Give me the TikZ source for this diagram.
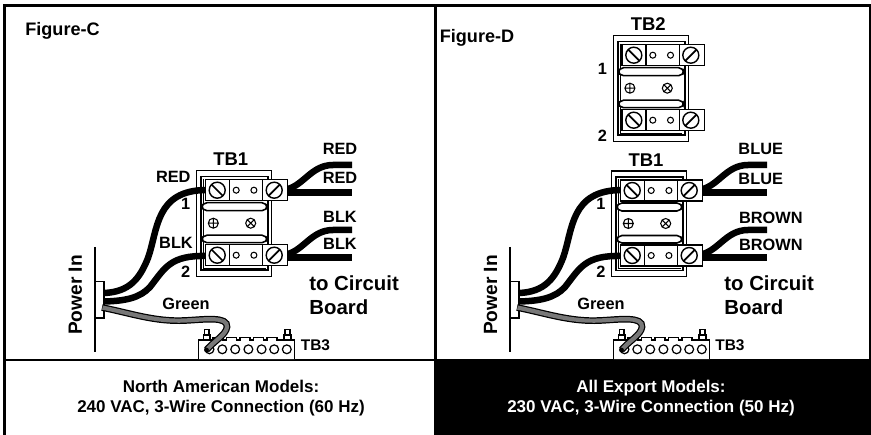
\documentclass[tikz,border=0pt]{standalone}
\usepackage{fontspec}
\setmainfont{Liberation Sans}
\usetikzlibrary{calc}
\definecolor{wiregreen}{gray}{0.47}
\tikzset{
	lbl/.style={font=\bfseries\fontsize{9.3}{11}\selectfont, inner sep=0pt},
	lblbig/.style={font=\bfseries\fontsize{11.6}{14}\selectfont, inner sep=0pt},
	lbltb/.style={font=\bfseries\fontsize{10.5}{12}\selectfont, inner sep=0pt},
	lblfig/.style={font=\bfseries\fontsize{10.3}{12}\selectfont, inner sep=0pt},
	lblfoot/.style={font=\bfseries\fontsize{9.67}{11.3}\selectfont, inner sep=0pt, align=center},
	wire/.style={line width=3.7pt, black},
	screw/.style={line width=0.8pt, fill=white},
}
% screw (#1,#2) with its slot turned by #3
\def\screwhead(#1,#2)(#3){
	\draw[screw] (#1, #2) circle (8);
	\draw[line width=1pt] ($(#1, #2)+({8*cos(#3)},{8*sin(#3)})$) -- ($(#1, #2)-({8*cos(#3)},{8*sin(#3)})$);
}
% terminal strip with top left corner (#1,#2)
\def\tbstrip(#1,#2){
	\draw[line width=0.8pt, fill=white] (#1, #2) rectangle ++(82.5, 21);
	\draw[line width=0.8pt] ($(#1, #2)+(24, 0)$) -- ++(0, 21);
	\draw[line width=0.8pt] ($(#1, #2)+(57.5, 0)$) -- ++(0, 21);
	\screwhead($(#1, #2)+(12, 10.5)$)(45);
	\screwhead($(#1, #2)+(69, 10.5)$)(-45);
	\draw[line width=0.6pt] ($(#1, #2)+(31, 10.5)$) circle (3);
	\draw[line width=0.6pt] ($(#1, #2)+(48.7, 10.5)$) circle (3);
}
% whole terminal block with top left corner (#1,#2)
\def\tbblock(#1,#2){
	\begin{scope}[shift={(#1, #2)}]
		\draw[line width=0.6pt] (0, 0) rectangle (75, 105.5);
		\draw[line width=0.9pt] (4.5, 6) rectangle (71.5, 99.5);
		\draw[line width=0.6pt] (6.8, 8) -- (6.8, 97.5) -- (69, 97.5);
		\draw[line width=0.9pt, fill=white, rounded corners=3] (5, 32) rectangle (70.5, 40);
		\draw[line width=0.9pt, fill=white, rounded corners=3] (5, 64.5) rectangle (70.5, 72);
		\tbstrip(8.5,9)
		\tbstrip(8.5,74)
		\draw[line width=0.6pt] (16.6, 52.5) circle (5) (11.6, 52.5) -- (21.6, 52.5) (16.6, 47.5) -- (16.6, 57.5);
		\draw[line width=0.6pt] (54, 52.5) circle (5) (50.5, 49) -- (57.5, 56) (50.5, 56) -- (57.5, 49);
	\end{scope}
}
% power entry, green wire and TB3 of one panel
\def\tbpower(#1){
	\begin{scope}[shift={(#1, 0)}]
		\draw[line width=0.7pt] (95, 247) -- (95, 352);
		\draw[line width=0.7pt, fill=white] (95, 281.5) rectangle (104, 318);
		% TB3
		\draw[line width=0.7pt, fill=white] (203.5, 335) rectangle (210, 340) (204.5, 329.5) rectangle (209, 335);
		\draw[line width=0.7pt, fill=white] (284, 335) rectangle (291, 340) (285, 329.5) rectangle (290, 335);
		\draw[line width=0.8pt, fill=white] (198.5, 359) -- (198.5, 340) -- (213, 340)
			\foreach \x in {213, 226.5, 240, 253.5, 267} {
				-- (\x, 337.5) -- (\x+10, 337.5) -- (\x+10, 340) -- (\x+13.5, 340)
			} -- (294.5, 340) -- (294.5, 359);
		\foreach \x in {209.5, 222.3, 235.2, 248.4, 261.6, 274.2, 286.8} {
			\draw[line width=0.7pt] (\x, 349.3) circle (4.4);
		}
		% green wire
		\draw[line width=3.8pt, black] (102, 307.5) .. controls (130, 313) and (155, 322) .. (185, 320.5) .. controls (205, 319.5) and (228, 316) .. (227, 327) .. controls (226, 335) and (214, 341) .. (206.5, 350);
		\draw[line width=2.4pt, wiregreen] (102.5, 307.6) .. controls (130, 313) and (155, 322) .. (185, 320.5) .. controls (205, 319.5) and (228, 316) .. (227, 327) .. controls (226, 335) and (214, 341) .. (207, 349.5);
		\fill (206.5, 350) circle (2.4);
		% incoming wires
		\draw[wire] (104, 293) .. controls (130, 292) and (140, 278) .. (148, 258) .. controls (158, 230) and (155, 190) .. (207, 190);
		\draw[wire] (104, 301.5) .. controls (125, 301) and (140, 298) .. (150, 287) .. controls (165, 268) and (170, 255) .. (207, 256);
	\end{scope}
}
% outgoing pair of wires
\def\tbout(#1,#2,#3){
	\draw[wire] (#1, #2+2.5) -- (#3, #2+2.5);
	\draw[wire] (#1, #2) .. controls (#1+20, #2-2) and (#1+27, #2-25) .. (#1+50, #2-25) -- (#3, #2-25);
}

\begin{document}
\begin{tikzpicture}[x=0.02cm, y=-0.02cm]
	\useasboundingbox (0, 0) rectangle (871, 435);

	%%%%% PANELS %%%%%
	\fill[white] (0, 0) rectangle (871, 435);
	\fill[black] (434, 360) rectangle (871, 435);
	\draw[line width=1.7pt] (4.5, 435) -- (4.5, 5.5) -- (870.5, 5.5) -- (870.5, 360);
	\draw[line width=1.5pt] (4.5, 360) -- (870.5, 360);
	\draw[line width=1.7pt] (435, 5.5) -- (435, 435);

	%%%%% FIGURE C %%%%%
	\tbpower(0)
	\tbout(283,190,352)
	\tbout(283,255,352)
	\tbblock(196.7,170.7)
	\node[lblfig] (figc) at (62.5, 31) {Figure-C};
	\node[lbltb] (tbc) at (230.7, 159) {TB1};
	\node[lbl] (redin) at (173.3, 176.7) {RED};
	\node[lbl] (blkin) at (176, 243.3) {BLK};
	\node[lbl] (onec) at (185.7, 204) {1};
	\node[lbl] (twoc) at (185.7, 271.7) {2};
	\node[lbl] (reda) at (340, 149.3) {RED};
	\node[lbl] (redb) at (340, 178.3) {RED};
	\node[lbl] (blka) at (340, 217.3) {BLK};
	\node[lbl] (blkb) at (340, 244.3) {BLK};
	\node[lblbig, anchor=west] (toc) at (309, 283) {to Circuit};
	\node[lblbig, anchor=west] (boardc) at (309, 307) {Board};
	\node[lbl] (greenc) at (186, 304.3) {Green};
	\node[lblbig, rotate=90, font=\bfseries\fontsize{10.9}{13}\selectfont] (powerc) at (75.5, 295) {Power In};
	\node[lbl, anchor=west, font=\bfseries\fontsize{8.8}{10}\selectfont] (tbthreec) at (300.5, 345) {TB3};
	\node[lblfoot] (footc) at (221, 398) {North American Models:\\240 VAC, 3-Wire Connection (60 Hz)};

	%%%%% FIGURE D %%%%%
	\tbpower(415)
	\tbout(698,190,767)
	\tbout(698,255,767)
	\tbblock(613.3,35.7)
	\tbblock(611.7,171)
	\node[lblfig] (figd) at (477, 38) {Figure-D};
	\node[lbltb] (tbtwo) at (648.3, 24) {TB2};
	\node[lbl] (oneb) at (602.3, 69.3) {1};
	\node[lbl] (twob) at (602.3, 136) {2};
	\node[lbltb] (tbd) at (646, 160) {TB1};
	\node[lbl] (oned) at (601, 204.3) {1};
	\node[lbl] (twod) at (601, 271.7) {2};
	\node[lbl] (bluea) at (760.7, 149.3) {BLUE};
	\node[lbl] (blueb) at (760.7, 179) {BLUE};
	\node[lbl] (browna) at (770.8, 218.3) {BROWN};
	\node[lbl] (brownb) at (770.8, 245) {BROWN};
	\node[lblbig, anchor=west] (tod) at (724, 283) {to Circuit};
	\node[lblbig, anchor=west] (boardd) at (724, 307) {Board};
	\node[lbl] (greend) at (601, 304.3) {Green};
	\node[lblbig, rotate=90, font=\bfseries\fontsize{10.9}{13}\selectfont] (powerd) at (490.5, 295) {Power In};
	\node[lbl, anchor=west, font=\bfseries\fontsize{8.8}{10}\selectfont] (tbthreed) at (715, 345) {TB3};
	\node[lblfoot, text=white] (footd) at (651, 398) {All Export Models:\\230 VAC, 3-Wire Connection (50 Hz)};
\end{tikzpicture}
\end{document}
